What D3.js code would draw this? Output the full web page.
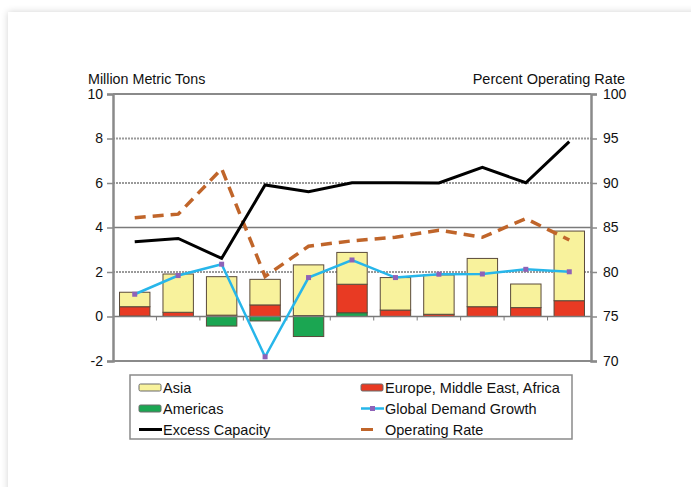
<!DOCTYPE html>
<html>
<head>
<meta charset="utf-8">
<script src="https://cdn.jsdelivr.net/npm/d3@7"></script>
<style>
  html, body { margin: 0; padding: 0; background: #ffffff; width: 691px; height: 487px; overflow: hidden; }
  #card { position: absolute; left: 8px; top: 12px; width: 720px; height: 520px; background: #fff;
          box-shadow: 0 0 7px rgba(0,0,0,0.18); }
  svg { position: absolute; left: 0; top: 0; }
  text { font-family: "Liberation Sans", Arial, sans-serif; fill: #111; }
</style>
</head>
<body>
<div id="card"></div>
<svg id="chart" width="691" height="487"></svg>
<script>
// ---- data ----
const categories = ["1","2","3","4","5","6","7","8","9","10","11"];
const asia     = [0.65, 1.72, 1.73, 1.15, 2.28, 1.43, 1.46, 1.77, 2.17, 1.06, 3.13];
const emea     = [0.42, 0.19, 0.06, 0.52, 0.04, 1.28, 0.29, 0.10, 0.44, 0.40, 0.71];
const americas = [0.02, 0.00, -0.43, -0.20, -0.90, 0.17, 0.00, 0.00, 0.00, 0.00, 0.00];
const demandGrowth   = [1.00, 1.84, 2.35, -1.81, 1.75, 2.54, 1.75, 1.90, 1.91, 2.12, 2.01];
const excessCapacity = [3.36, 3.51, 2.61, 5.91, 5.61, 6.01, 6.01, 6.00, 6.70, 6.01, 7.86];
const operatingRate  = [86.1, 86.5, 91.6, 79.5, 82.9, 83.5, 83.9, 84.7, 83.9, 86.0, 83.6];
const leftTicks  = [-2, 0, 2, 4, 6, 8, 10];
const rightTicks = [70, 75, 80, 85, 90, 95, 100];

// ---- layout ----
const svg = d3.select("#chart");
const L = 113, R = 591, T = 94, B = 361;
const x = d3.scaleBand().domain(categories).range([L, R]).paddingInner(0.3).paddingOuter(0.15);
const yL = d3.scaleLinear().domain([-2, 10]).range([B, T]);
const yR = d3.scaleLinear().domain([70, 100]).range([B, T]);

const colors = { Asia: "#f8f29c", EMEA: "#e83a23", Americas: "#1ba652" };

// gridlines
const g = svg.append("g");
[2, 6, 8].forEach(v => {
  g.append("line").attr("x1", L).attr("x2", R).attr("y1", yL(v)).attr("y2", yL(v))
    .attr("stroke", "#9a9a9a").attr("stroke-width", 2).attr("stroke-dasharray", "2,1");
});
g.append("line").attr("x1", L).attr("x2", R).attr("y1", yL(4)).attr("y2", yL(4))
  .attr("stroke", "#7a7a7a").attr("stroke-width", 1.5);
// top & bottom frame
[10, -2].forEach(v => {
  g.append("line").attr("x1", L).attr("x2", R).attr("y1", yL(v)).attr("y2", yL(v))
    .attr("stroke", "#8a8a8a").attr("stroke-width", 2);
});

// bars
const rows = categories.map((c, i) => ({ cat: c, Americas: americas[i], EMEA: emea[i], Asia: asia[i] }));
const stack = d3.stack().keys(["Americas", "EMEA", "Asia"]).offset(d3.stackOffsetDiverging);
const series = stack(rows);
svg.append("g").selectAll("g").data(series).join("g")
  .attr("fill", d => colors[d.key])
  .selectAll("rect").data(d => d.filter(p => p[1] !== p[0])).join("rect")
  .attr("x", d => x(d.data.cat))
  .attr("width", x.bandwidth())
  .attr("y", d => yL(Math.max(d[0], d[1])))
  .attr("height", d => Math.abs(yL(d[0]) - yL(d[1])))
  .attr("stroke", "#5a4a3a").attr("stroke-width", 1);

// zero axis with category-boundary ticks
const zx = svg.append("g");
zx.append("line").attr("x1", L).attr("x2", R).attr("y1", yL(0)).attr("y2", yL(0))
  .attr("stroke", "#7a7a7a").attr("stroke-width", 1.5);
categories.slice(1).forEach(c => {
  const xb = x(c) - x.step() * x.paddingInner() / 2;
  zx.append("line").attr("x1", xb).attr("x2", xb).attr("y1", yL(0)).attr("y2", yL(0) + 4)
    .attr("stroke", "#7a7a7a").attr("stroke-width", 1);
});

// axes
const fmt = d => String(d);
const axL = d3.axisLeft(yL).tickValues(leftTicks).tickSize(6).tickFormat(fmt);
const axR = d3.axisRight(yR).tickValues(rightTicks).tickSize(6).tickFormat(fmt);
const gL = svg.append("g").attr("transform", `translate(${L},0)`).call(axL);
const gR = svg.append("g").attr("transform", `translate(${R},0)`).call(axR);
[gL, gR].forEach(a => {
  a.select(".domain").attr("stroke", "#8a8a8a").attr("stroke-width", 2.5);
  a.selectAll(".tick line").attr("stroke", "#8a8a8a").attr("stroke-width", 1.5);
  a.selectAll(".tick text").attr("font-size", "14px").attr("fill", "#111")
    .attr("font-family", "Liberation Sans, Arial, sans-serif");
});
gL.selectAll(".tick text").attr("x", -10);
gR.selectAll(".tick text").attr("x", 12);

// lines
const cx = c => x(c) + x.bandwidth() / 2;
const lineL = d3.line().x((d, i) => cx(categories[i])).y(d => yL(d));
const lineR = d3.line().x((d, i) => cx(categories[i])).y(d => yR(d));

svg.append("path").datum(operatingRate).attr("d", lineR)
  .attr("fill", "none").attr("stroke", "#c0652a").attr("stroke-width", 3.5)
  .attr("stroke-dasharray", "11,7");
svg.append("path").datum(excessCapacity).attr("d", lineL)
  .attr("fill", "none").attr("stroke", "#000").attr("stroke-width", 3).attr("stroke-linejoin", "miter");
svg.append("path").datum(demandGrowth).attr("d", lineL)
  .attr("fill", "none").attr("stroke", "#27b6ea").attr("stroke-width", 2.5);
svg.append("g").selectAll("rect").data(demandGrowth).join("rect")
  .attr("x", (d, i) => cx(categories[i]) - 2.5).attr("y", d => yL(d) - 2.5)
  .attr("width", 5).attr("height", 5).attr("fill", "#8e62b8");

// axis titles
svg.append("text").attr("x", 88).attr("y", 84).attr("font-size", "14.3px")
  .text("Million Metric Tons");
svg.append("text").attr("x", 625).attr("y", 84).attr("font-size", "14.5px").attr("text-anchor", "end")
  .text("Percent Operating Rate");

// legend
const lg = svg.append("g");
lg.append("rect").attr("x", 130).attr("y", 375).attr("width", 442).attr("height", 64)
  .attr("fill", "#fff").attr("stroke", "#8a8a8a").attr("stroke-width", 1.5);
const legendItems = [
  { label: "Asia", type: "box", color: colors.Asia, col: 0, row: 0 },
  { label: "Americas", type: "box", color: colors.Americas, col: 0, row: 1 },
  { label: "Excess Capacity", type: "line", color: "#000", col: 0, row: 2 },
  { label: "Europe, Middle East, Africa", type: "box", color: colors.EMEA, col: 1, row: 0 },
  { label: "Global Demand Growth", type: "marker", color: "#27b6ea", col: 1, row: 1 },
  { label: "Operating Rate", type: "dash", color: "#c0652a", col: 1, row: 2 }
];
const colX = [139, 361], rowY = [387.5, 408.5, 429.5];
legendItems.forEach(it => {
  const x0 = colX[it.col], y0 = rowY[it.row];
  if (it.type === "box") {
    lg.append("rect").attr("x", x0).attr("y", y0 - 3.5).attr("width", 22).attr("height", 7)
      .attr("rx", 1.5).attr("fill", it.color).attr("stroke", "#6a6a6a").attr("stroke-width", 1);
  } else if (it.type === "line") {
    lg.append("line").attr("x1", x0).attr("x2", x0 + 23).attr("y1", y0).attr("y2", y0)
      .attr("stroke", it.color).attr("stroke-width", 3);
  } else if (it.type === "marker") {
    lg.append("line").attr("x1", x0).attr("x2", x0 + 23).attr("y1", y0).attr("y2", y0)
      .attr("stroke", it.color).attr("stroke-width", 2.5);
    lg.append("rect").attr("x", x0 + 9).attr("y", y0 - 2.5).attr("width", 5).attr("height", 5)
      .attr("fill", "#8e62b8");
  } else {
    lg.append("line").attr("x1", x0).attr("x2", x0 + 12).attr("y1", y0).attr("y2", y0)
      .attr("stroke", it.color).attr("stroke-width", 3);
  }
  lg.append("text").attr("x", x0 + 24).attr("y", y0 + 5)
    .attr("font-size", "14.5px").text(it.label);
});
</script>
</body>
</html>
